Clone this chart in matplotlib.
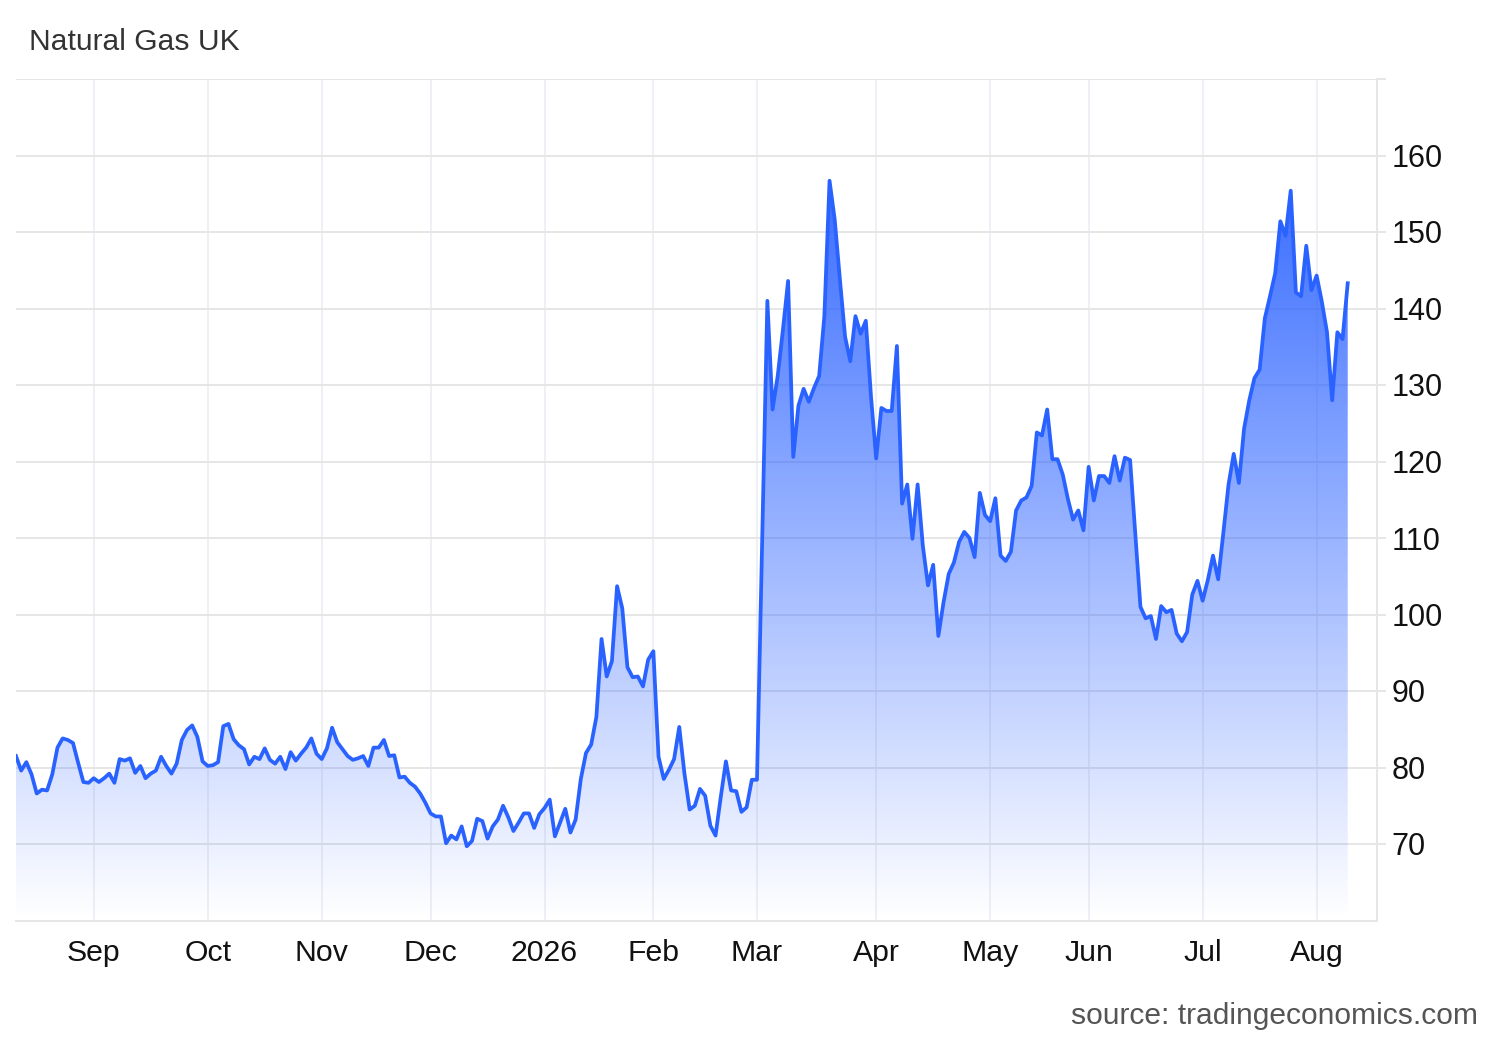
import numpy as np
import matplotlib
matplotlib.use('Agg')
import matplotlib.pyplot as plt
from matplotlib.colors import LinearSegmentedColormap
from matplotlib.patches import PathPatch

plt.rcParams['font.family'] = ['Liberation Sans', 'DejaVu Sans']

# daily closing prices (GBp/thm), one value per trading day, mid Aug 2025 -> Aug 2026
prices = [
    81.5, 79.6, 80.7, 79.1, 76.6, 77.1, 77.0, 79.1, 82.6, 83.8,
    83.6, 83.2, 80.6, 78.1, 78.0, 78.6, 78.1, 78.6, 79.2, 78.0,
    81.1, 80.9, 81.2, 79.3, 80.2, 78.6, 79.2, 79.6, 81.4, 80.2,
    79.2, 80.5, 83.6, 84.9, 85.5, 84.0, 80.8, 80.2, 80.3, 80.7,
    85.4, 85.7, 83.7, 82.9, 82.4, 80.4, 81.4, 81.1, 82.5, 81.0,
    80.5, 81.4, 79.8, 82.0, 80.9, 81.8, 82.6, 83.8, 81.8, 81.1,
    82.5, 85.2, 83.3, 82.4, 81.5, 81.0, 81.2, 81.5, 80.2, 82.6,
    82.6, 83.6, 81.5, 81.6, 78.7, 78.8, 78.0, 77.5, 76.6, 75.4,
    74.0, 73.6, 73.6, 70.1, 71.1, 70.6, 72.3, 69.7, 70.4, 73.3,
    73.0, 70.7, 72.3, 73.2, 75.0, 73.5, 71.7, 72.8, 74.0, 74.0,
    72.1, 73.9, 74.7, 75.8, 71.0, 72.8, 74.6, 71.5, 73.2, 78.5,
    81.9, 83.0, 86.6, 96.8, 91.9, 93.9, 103.7, 100.8, 93.1, 91.8,
    91.9, 90.6, 94.1, 95.2, 81.4, 78.5, 79.7, 81.1, 85.3, 79.2,
    74.5, 75.0, 77.2, 76.3, 72.4, 71.1, 76.1, 80.8, 77.0, 76.9,
    74.2, 74.8, 78.4, 78.4, 110.0, 141.0, 126.8, 131.2, 137.2, 143.6,
    120.6, 127.3, 129.5, 127.8, 129.6, 131.2, 139.0, 156.7, 151.6, 143.8,
    136.3, 133.1, 139.0, 136.7, 138.4, 128.5, 120.4, 127.0, 126.6, 126.6,
    135.1, 114.5, 117.0, 109.9, 117.0, 109.0, 103.8, 106.5, 97.2, 101.6,
    105.3, 106.8, 109.5, 110.8, 110.0, 107.5, 115.9, 113.0, 112.2, 115.2,
    107.7, 107.0, 108.2, 113.6, 114.9, 115.3, 116.8, 123.8, 123.4, 126.8,
    120.3, 120.3, 118.3, 115.1, 112.4, 113.6, 111.0, 119.3, 114.9, 118.1,
    118.1, 117.2, 120.7, 117.5, 120.5, 120.2, 110.5, 101.0, 99.5, 99.8,
    96.8, 101.1, 100.3, 100.6, 97.5, 96.5, 97.7, 102.6, 104.4, 101.8,
    104.5, 107.7, 104.6, 110.7, 117.0, 121.0, 117.2, 124.3, 128.0, 130.9,
    132.0, 138.7, 141.6, 144.6, 151.4, 149.5, 155.4, 142.1, 141.6, 148.2,
    142.4, 144.3, 140.9, 136.9, 128.0, 136.9, 136.0, 143.3,
]

# first trading day of each month (index into prices)
month_labels = ['Sep', 'Oct', 'Nov', 'Dec', '2026', 'Feb', 'Mar', 'Apr', 'May', 'Jun', 'Jul', 'Aug']
month_idx = [15, 37, 59, 80, 102, 123, 143, 166, 188, 207, 229, 251]

y_ticks = [70, 80, 90, 100, 110, 120, 130, 140, 150, 160, 170]

W, H = 1500, 1040
fig = plt.figure(figsize=(W / 100, H / 100), dpi=100)
ax = fig.add_axes([16 / W, 1 - 920.5 / H, (1377 - 16) / W, (920.5 - 79) / H])

x = np.arange(len(prices))
y = np.array(prices)
ymin, ymax = 60, 170
ax.set_xlim(0, 262.65)
ax.set_ylim(ymin, ymax)

# gradient area under the line
poly = ax.fill_between(x, y, ymin, color='none', lw=0)
clip = PathPatch(poly.get_paths()[0], transform=ax.transData, facecolor='none', edgecolor='none')
ax.add_patch(clip)
cmap = LinearSegmentedColormap.from_list('fade', [(0.16, 0.38, 1.0, 0.0), (0.16, 0.38, 1.0, 0.92)])
grad = np.linspace(0, 1, 256).reshape(-1, 1)
im = ax.imshow(grad, extent=[x[0], x[-1], ymin, y.max()], origin='lower', aspect='auto',
               cmap=cmap, vmin=0, vmax=1, zorder=1, interpolation='bilinear')
im.set_clip_path(clip)

ax.plot(x, y, color='#2962ff', lw=2.7, zorder=3, solid_joinstyle='round')

# axes styling
ax.set_axisbelow(True)
ax.set_xticks(month_idx)
ax.set_xticklabels(month_labels)
ax.set_yticks(y_ticks)
ax.set_yticklabels([str(v) for v in y_ticks[:-1]] + [''])
ax.yaxis.tick_right()
ax.tick_params(axis='x', length=0, labelsize=21.8, pad=13, labelcolor='#111111')
ax.tick_params(axis='y', length=6.5, width=1.4, color='#e6e6e6', labelsize=22, pad=4,
               labelcolor='#111111')
ax.xaxis.grid(True, color='#edf0f5', lw=1.4)
ax.yaxis.grid(True, color='#e6e6e6', lw=1.4)
for side in ['left', 'top']:
    ax.spines[side].set_visible(False)
for side in ['right', 'bottom']:
    ax.spines[side].set_color('#e6e6e6')
    ax.spines[side].set_linewidth(1.4)

fig.text(29 / W, 1 - 50 / H, 'Natural Gas UK', fontsize=21.6, color='#333333', va='baseline')
fig.text(1478 / W, 1 - 1024 / H, 'source: tradingeconomics.com', fontsize=21.6, color='#555555',
         ha='right', va='baseline')

fig.savefig('out.png', dpi=100, facecolor='white')
